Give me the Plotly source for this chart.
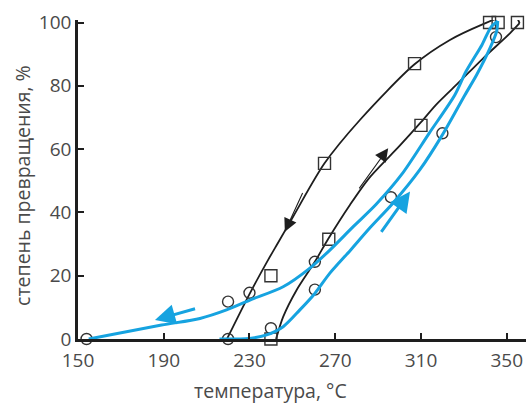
import plotly.graph_objects as go

# --- data ---
sq_T = [240, 240, 265, 267, 307, 310, 342, 346, 355]
sq_Y = [0, 20, 55.5, 31.5, 87, 67.5, 100, 100, 100]

ci_T = [154, 220, 220, 230, 240, 260.5, 260.5, 296, 320, 345]
ci_Y = [0, 0, 11.8, 14.6, 3.4, 24.4, 15.6, 44.8, 65, 95.4]

# black loop: heating (lower) branch and cooling (upper) branch
blk_heat_T = [242.4, 245.7, 252, 260.5, 266.7, 277, 286, 300, 310, 317, 328, 339, 351.5, 356]
blk_heat_Y = [0, 7, 15.5, 24.4, 31.6, 42.5, 51, 61, 68.5, 74, 81.3, 88.7, 96.6, 99.8]
blk_cool_T = [356, 354.6, 346.8, 339, 323.5, 307, 281.5, 265, 250.4, 243.4, 238.7, 230, 219.5]
blk_cool_Y = [99.8, 101.4, 101.5, 99.5, 94.5, 86.8, 69.2, 55.5, 38.7, 30.5, 25, 14.2, 0]

# blue loop: heating branch and cooling branch
blu_heat_T = [216, 230, 238, 245.7, 253.5, 260.5, 267.5, 277, 286, 297, 309.5, 320, 330.5, 336, 342.2, 345.3, 345.8]
blu_heat_Y = [0, 0.2, 1.3, 3.9, 9.2, 14.4, 20.8, 28, 35, 43, 53.5, 64.5, 77.1, 83.5, 91.9, 97.2, 100.5]
blu_cool_T = [345.8, 342.6, 338.5, 331, 325.8, 313.8, 301, 289, 278.4, 267.5, 258.2, 245.7, 230.2, 219.3, 206.9, 189, 155]
blu_cool_Y = [100.5, 98.5, 93, 84.5, 77.1, 65, 52, 42.5, 35.5, 28.1, 22.4, 16.5, 12.3, 9.2, 6.5, 4.4, 0]

# arrows: (tail_T, tail_Y, head_T, head_Y)
blk_arrows = [(255.1, 46.6, 246.5, 33.9), (280.7, 47.1, 294.7, 60.3)]
blu_arrows = [(205.3, 9.7, 185.9, 6.0), (291.0, 33.4, 304.9, 46.6)]

x_ticks = [150, 190, 230, 270, 310, 350]
y_ticks = [0, 20, 40, 60, 80, 100]

BLUE = "#16a3e0"
BLACK = "#1e1e1e"
TXT = "#4a4a4a"

fig = go.Figure()

for xs, ys in [(blk_heat_T, blk_heat_Y), (blk_cool_T, blk_cool_Y)]:
    fig.add_trace(go.Scatter(x=xs, y=ys, mode="lines",
                             line=dict(color=BLACK, width=1.8, shape="spline", smoothing=0.8),
                             cliponaxis=False, hoverinfo="skip"))
fig.add_trace(go.Scatter(x=sq_T, y=sq_Y, mode="markers",
                         marker=dict(symbol="square-open", size=12, color="#333333", line=dict(width=1.4)),
                         cliponaxis=False, hoverinfo="skip"))
fig.add_trace(go.Scatter(x=ci_T, y=ci_Y, mode="markers",
                         marker=dict(symbol="circle-open", size=11, color="#333333", line=dict(width=1.4)),
                         cliponaxis=False, hoverinfo="skip"))
for xs, ys in [(blu_heat_T, blu_heat_Y), (blu_cool_T, blu_cool_Y)]:
    fig.add_trace(go.Scatter(x=xs, y=ys, mode="lines",
                             line=dict(color=BLUE, width=3, shape="spline", smoothing=0.8),
                             cliponaxis=False, hoverinfo="skip"))

annotations = []
for (t0, y0, t1, y1) in blk_arrows:
    annotations.append(dict(x=t1, y=y1, ax=t0, ay=y0, xref="x", yref="y", axref="x", ayref="y",
                            showarrow=True, arrowhead=2, arrowsize=2.4, arrowwidth=1.1,
                            arrowcolor=BLACK, text=""))
for (t0, y0, t1, y1) in blu_arrows:
    annotations.append(dict(x=t1, y=y1, ax=t0, ay=y0, xref="x", yref="y", axref="x", ayref="y",
                            showarrow=True, arrowhead=2, arrowsize=1.35, arrowwidth=3,
                            arrowcolor=BLUE, text=""))

annotations.append(dict(text="температура, °С", xref="paper", yref="paper", x=0.4286, y=-0.163,
                        xanchor="center", yanchor="middle", showarrow=False,
                        font=dict(family="Open Sans", size=19.5, color=TXT)))
annotations.append(dict(text="степень превращения, %", xref="paper", yref="paper", x=-0.1228, y=0.483,
                        xanchor="center", yanchor="middle", showarrow=False, textangle=-90,
                        font=dict(family="Open Sans", size=19.5, color=TXT)))

fig.update_layout(
    width=526, height=405,
    margin=dict(l=78, r=0, t=20, b=66),
    paper_bgcolor="white", plot_bgcolor="white",
    showlegend=False,
    font=dict(family="Open Sans", size=18, color=TXT),
    annotations=annotations,
    xaxis=dict(range=[150, 359], tickvals=x_ticks, ticktext=[str(v) for v in x_ticks],
               showgrid=False, zeroline=False, showline=True, linecolor=BLACK, linewidth=2.5,
               ticks="inside", ticklen=6, tickwidth=2, tickcolor=BLACK, ticklabelstandoff=2,
               tickfont=dict(family="Open Sans", size=19, color=TXT)),
    yaxis=dict(range=[0, 100.8], tickvals=y_ticks, ticktext=[str(v) for v in y_ticks],
               showgrid=False, zeroline=False, showline=True, linecolor=BLACK, linewidth=2.5,
               ticks="inside", ticklen=6, tickwidth=2, tickcolor=BLACK,
               tickfont=dict(family="Open Sans", size=19, color=TXT)),
)

fig.write_html("out.html", config={"displayModeBar": False},
               post_script="document.body.style.margin='0';")
